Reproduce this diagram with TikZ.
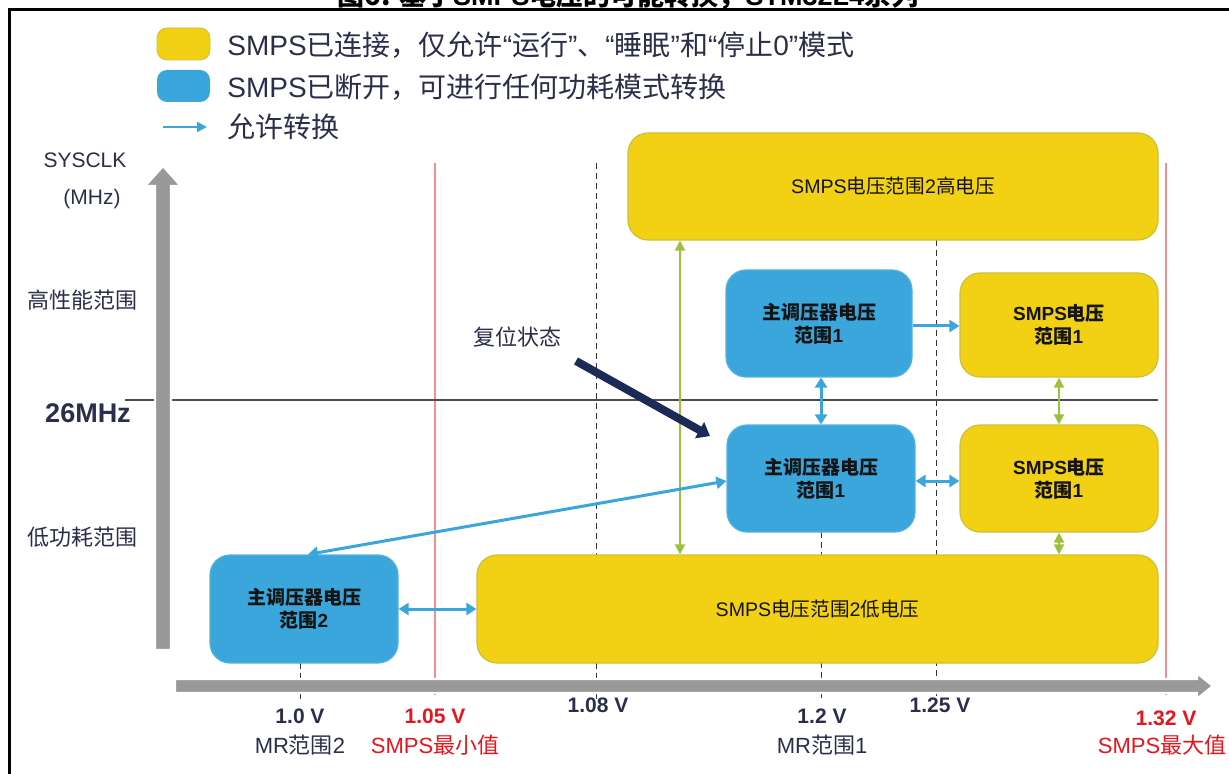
\documentclass[tikz,border=0pt]{standalone}
\usepackage{fontspec}
\setmainfont{Liberation Sans}
\newfontfamily\cjk{Noto Sans CJK SC}
\usetikzlibrary{arrows.meta}
\newcommand\zh[1]{{\cjk #1}}
\definecolor{myyellow}{HTML}{F2D013}
\definecolor{ybord}{HTML}{C9C13A}
\definecolor{myblue}{HTML}{3AA6DB}
\definecolor{bbord}{HTML}{52B2E0}
\definecolor{mygreen}{HTML}{9DC13C}
\definecolor{myred}{HTML}{EE9090}
\definecolor{redtext}{HTML}{E8141B}
\definecolor{navy}{HTML}{1C2A57}
\definecolor{labtext}{HTML}{2B2E4A}
\definecolor{boxtext}{HTML}{141414}
\definecolor{axisgray}{HTML}{999999}
\begin{document}
\begin{tikzpicture}[x=0.5pt,y=-0.5pt,
  yellowbox/.style={draw=ybord, fill=myyellow, rounded corners=10pt, line width=0.6pt,
    text=boxtext, align=center, inner sep=0pt},
  bluebox/.style={draw=bbord, fill=myblue, rounded corners=10pt, line width=0.6pt,
    text=boxtext, align=center, inner sep=0pt},
  boldtxt/.style={font=\fontsize{9.5}{11.5}\selectfont\bfseries},
  regtxt/.style={font=\fontsize{9.8}{11.5}\selectfont},
  head/.style={Triangle[length=5pt,width=6pt]},
  bluearr/.style={draw=myblue, line width=1.5pt, {Triangle[length=5pt,width=6pt]}-{Triangle[length=5pt,width=6pt]}},
  bluesingle/.style={draw=myblue, line width=1.5pt, -{Triangle[length=5pt,width=6pt]}},
  greenarr/.style={draw=mygreen, line width=1pt, {Triangle[length=5pt,width=5pt]}-{Triangle[length=5pt,width=5pt]}},
  redline/.style={draw=myred, line width=0.6pt},
  dashline/.style={draw=black!80, line width=0.5pt, dash pattern=on 3pt off 2pt},
  leg/.style={anchor=west, inner sep=0pt, text=labtext, font=\fontsize{14}{16}\selectfont},
  axlab/.style={inner sep=0pt, text=labtext, font=\fontsize{11}{13}\selectfont},
  vlab/.style={inner sep=0pt, text=labtext, font=\fontsize{10.5}{12}\selectfont\bfseries},
]
\useasboundingbox (0,0) rectangle (1229,774);

% title (cut off) and frame
\node[anchor=base, inner sep=0pt, font=\fontsize{13.5}{15}\selectfont\bfseries] (title) at (628,6)
  {\zh{图6. 基于}SMPS\zh{电压的可能转换，}STM32L4\zh{系列}};
\draw[line width=1.5pt] (1229,10) -- (9,10) -- (9,774);

% legend
\fill[myyellow, draw=ybord, line width=0.4pt, rounded corners=5pt] (157,28) rectangle (210,60);
\fill[myblue, rounded corners=5pt] (157,70) rectangle (210,102);
\coordinate (la) at (163,127);
\coordinate (lb) at (207,127);
\draw[draw=myblue, line width=1pt, -{Triangle[length=5pt,width=5pt]}] (la) -- (lb);
\node[leg] (leg1) at (227,45) {SMPS\zh{已连接，仅允许}“\zh{运行}”\zh{、}“\zh{睡眠}”\zh{和}“\zh{停止}0”\zh{模式}};
\node[leg] (leg2) at (227,87) {SMPS\zh{已断开，可进行任何功耗模式转换}};
\node[leg] (leg3) at (227,127) {\zh{允许转换}};

% vertical guide lines
\draw[redline] (435,163) -- (435,695);
\draw[redline] (1166,163) -- (1166,695);
\draw[dashline] (596,163) -- (596,700);
\draw[dashline] (936,240) -- (936,700);
\draw[dashline] (821,532) -- (821,700);
\draw[dashline] (300,663) -- (300,700);

% 26 MHz line
\draw[draw=black!70, line width=0.7pt] (125,400) -- (1158,400);

% axes
\fill[axisgray, draw=white, line width=1.2pt]
  (155,650) -- (155,186) -- (145,186) -- (163,166) -- (181,186) -- (171,186) -- (171,650) -- cycle;
\fill[axisgray, draw=white, line width=1.2pt]
  (175,679) -- (1197,679) -- (1197,673) -- (1213,686) -- (1197,699) -- (1197,693) -- (175,693) -- cycle;

% axis labels
\node[axlab, font=\fontsize{10.5}{12}\selectfont] (sys) at (85,160) {SYSCLK};
\node[axlab, font=\fontsize{10.5}{12}\selectfont] (mhz) at (92,199) {(MHz)};
\node[axlab] (hp) at (82,300) {\zh{高性能范围}};
\node[axlab] (lp) at (82,537) {\zh{低功耗范围}};
\node[axlab, font=\fontsize{13.5}{15}\selectfont\bfseries] (f26) at (88,413) {26MHz};

\node[vlab] (v100) at (300,716) {1.0 V};
\node[axlab] (mr2l) at (300,745) {MR\zh{范围}2};
\node[vlab, text=redtext] (v105) at (435,716) {1.05 V};
\node[axlab, text=redtext] (smin) at (435,745) {SMPS\zh{最小值}};
\node[vlab] (v108) at (598,705) {1.08 V};
\node[vlab] (v120) at (822,716) {1.2 V};
\node[axlab] (mr1l) at (822,745) {MR\zh{范围}1};
\node[vlab] (v125) at (940,705) {1.25 V};
\node[vlab, text=redtext] (v132) at (1166,718) {1.32 V};
\node[axlab, text=redtext] (smax) at (1162,745) {SMPS\zh{最大值}};

% boxes
\node[yellowbox, regtxt, minimum width=265pt, minimum height=53.5pt] (hi) at (893,186.5)
  {SMPS\zh{电压范围}2\zh{高电压}};
\node[bluebox, boldtxt, minimum width=93pt, minimum height=53.5pt] (mr1a) at (819,323.5)
  {\zh{主调压器电压}\\\zh{范围}1};
\node[yellowbox, boldtxt, minimum width=99pt, minimum height=52pt] (s1a) at (1059,325)
  {SMPS\zh{电压}\\\zh{范围}1};
\node[bluebox, boldtxt, minimum width=94pt, minimum height=53.5pt] (mr1b) at (821,478.5)
  {\zh{主调压器电压}\\\zh{范围}1};
\node[yellowbox, boldtxt, minimum width=99pt, minimum height=53.5pt] (s1b) at (1059,478.5)
  {SMPS\zh{电压}\\\zh{范围}1};
\node[bluebox, boldtxt, minimum width=94pt, minimum height=54pt] (mr2) at (304,609)
  {\zh{主调压器电压}\\\zh{范围}2};
\node[yellowbox, regtxt, minimum width=340.5pt, minimum height=54pt] (lo) at (817.5,609)
  {SMPS\zh{电压范围}2\zh{低电压}};

% connectors
\draw[bluesingle] ([yshift=-1.25pt]mr1a.east) -- ([yshift=-1.25pt]mr1a.east -| s1a.west);
\draw[bluearr] (mr1b.north |- mr1a.south) -- (mr1b.north);
\draw[bluearr] ([yshift=-1.25pt]mr1b.east) -- ([yshift=-1.25pt]mr1b.east -| s1b.west);
\draw[greenarr] (s1a.south) -- (s1b.north);
\draw[greenarr] (s1b.south) -- (s1b.south |- lo.north);
\coordinate (gx) at (680,0);
\draw[greenarr] (gx |- hi.south) -- (gx |- lo.north);
\draw[bluearr] ([yshift=-1.25pt]mr1b.west) -- ([xshift=2pt]mr2.north);
\draw[bluearr] (mr2.east) -- (lo.west);

% reset state
\node[inner sep=0pt, text=labtext, font=\fontsize{11}{13}\selectfont] (rst) at (517,337) {\zh{复位状态}};
\coordinate (rs) at (576,361);
\coordinate (re) at (710,436);
\draw[draw=navy, line width=4pt, -{Triangle[length=6pt,width=9pt]}] (rs) -- (re);
\end{tikzpicture}
\end{document}
